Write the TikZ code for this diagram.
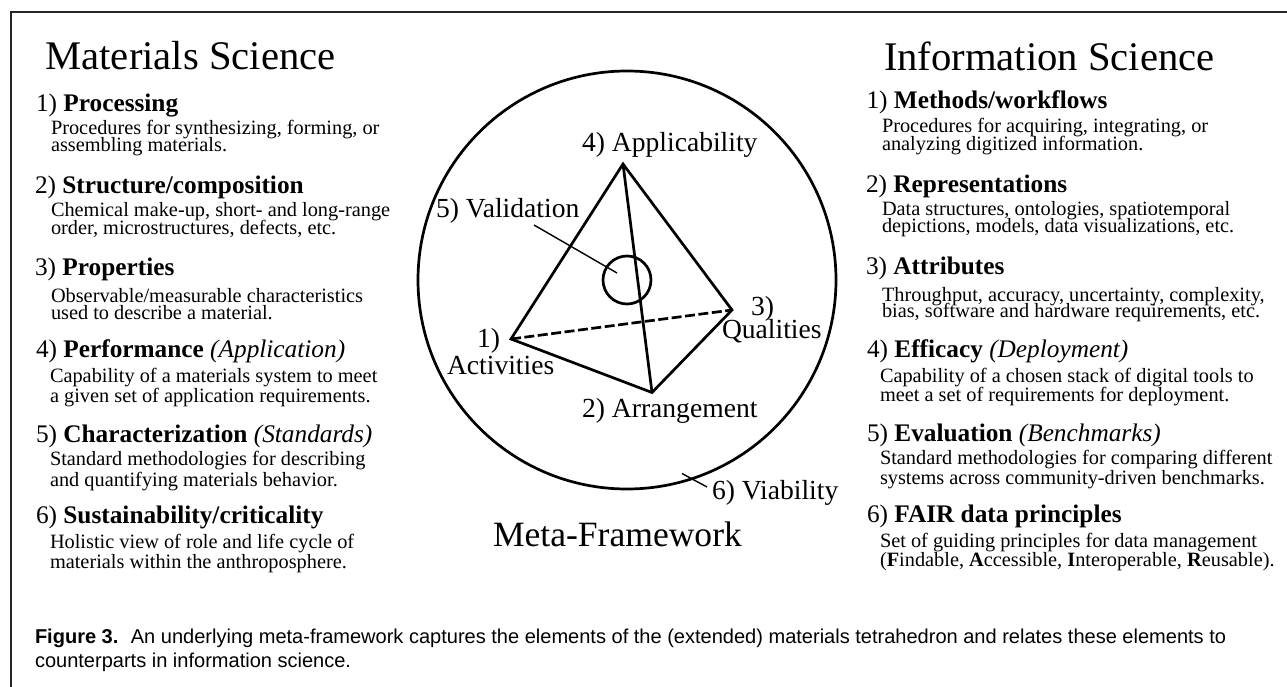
\documentclass[tikz,border=0pt]{standalone}
\usepackage{fontspec}
\setmainfont{Liberation Serif}
\newfontfamily\capfont{Liberation Sans}
\tikzset{x=1bp,y=-1bp,
  txt/.style={anchor=base west,inner sep=0pt,outer sep=0pt,font=\fontsize{#1}{#1}\selectfont},
  heavy/.style={line width=2.7bp,black},
  thin line/.style={line width=1.4bp,black},
  capt/.style={anchor=base west,inner sep=0pt,outer sep=0pt,font=\capfont\fontsize{20.1}{20.1}\selectfont}}
\newcommand{\hd}[3]{\node[txt=40.8] (#1) at (#2) {#3};}
\newcommand{\itm}[3]{\node[txt=25.4] (#1) at (#2) {#3};}
\newcommand{\bdy}[3]{\node[txt=20.4] (#1) at (#2) {#3};}
\begin{document}
\begin{tikzpicture}
\useasboundingbox (0,0) rectangle (1287,687);
\fill[white] (0,0) rectangle (1287,687);
\coordinate (fa) at (11,687);
\coordinate (fb) at (11,12);
\coordinate (fc) at (1287,12);
\draw[line width=1.1bp,black!85] (fa) -- (fb) -- (fc);
% left
\hd{ml}{45.5,70}{Materials Science}
\itm{l1}{36,112}{1) \textbf{Processing}}
\bdy{l1a}{51,135}{Procedures for synthesizing, forming, or}
\bdy{l1b}{51,152}{assembling materials.}
\itm{l2}{35,194}{2) \textbf{Structure/composition}}
\bdy{l2a}{51,217}{Chemical make-up, short- and long-range}
\bdy{l2b}{51,235}{order, microstructures, defects, etc.}
\itm{l3}{35,275}{3) \textbf{Properties}}
\bdy{l3a}{51,302}{Observable/measurable characteristics}
\bdy{l3b}{51,319}{used to describe a material.}
\itm{l4}{36,357}{4) \textbf{Performance} \textit{(Application)}}
\bdy{l4a}{50,382}{Capability of a materials system to meet}
\bdy{l4b}{50,402}{a given set of application requirements.}
\itm{l5}{36,442}{5) \textbf{Characterization} \textit{(Standards)}}
\bdy{l5a}{50,465.5}{Standard methodologies for describing}
\bdy{l5b}{50,486}{and quantifying materials behavior.}
\itm{l6}{36,523}{6) \textbf{Sustainability/criticality}}
\bdy{l6a}{50,548}{Holistic view of role and life cycle of}
\bdy{l6b}{50,568}{materials within the anthroposphere.}
% right
\hd{mr}{884,71}{Information Science}
\itm{r1}{866.5,109}{1) \textbf{Methods/workflows}}
\bdy{r1a}{882,133}{Procedures for acquiring, integrating, or}
\bdy{r1b}{882,151}{analyzing digitized information.}
\itm{r2}{866,193}{2) \textbf{Representations}}
\bdy{r2a}{882,216}{Data structures, ontologies, spatiotemporal}
\bdy{r2b}{882,233}{depictions, models, data visualizations, etc.}
\itm{r3}{866,274}{3) \textbf{Attributes}}
\bdy{r3a}{882,301}{Throughput, accuracy, uncertainty, complexity,}
\bdy{r3b}{882,317}{bias, software and hardware requirements, etc.}
\itm{r4}{867,357}{4) \textbf{Efficacy} \textit{(Deployment)}}
\bdy{r4a}{880,382}{Capability of a chosen stack of digital tools to}
\bdy{r4b}{880,401}{meet a set of requirements for deployment.}
\itm{r5}{867,441}{5) \textbf{Evaluation} \textit{(Benchmarks)}}
\bdy{r5a}{880,464}{Standard methodologies for comparing different}
\bdy{r5b}{880,484}{systems across community-driven benchmarks.}
\itm{r6}{867,522}{6) \textbf{FAIR data principles}}
\bdy{r6a}{880,547}{Set of guiding principles for data management}
\bdy{r6b}{880,566}{(\textbf{F}indable, \textbf{A}ccessible, \textbf{I}nteroperable, \textbf{R}eusable).}
% centre
\node[draw,heavy,circle,minimum size=418bp,inner sep=0pt] (outer) at (627,280) {};
\node[draw,heavy,circle,minimum size=48bp,inner sep=0pt] (inner) at (627,280) {};
\coordinate (A) at (623,164);
\coordinate (B) at (511,339);
\coordinate (C) at (652,392.5);
\coordinate (D) at (732,310);
\draw[heavy,line join=miter] (B) -- (A) -- (D) -- (C) -- cycle;
\draw[heavy] (A) -- (C);
\draw[heavy,dash pattern=on 10bp off 3.5bp] (B) -- (D);
\coordinate (v1) at (534,225);
\coordinate (v2) at (617,273);
\draw[thin line] (v1) -- (v2);
\coordinate (w1) at (682,473.5);
\coordinate (w2) at (707,487);
\draw[thin line] (w1) -- (w2);
\node[txt=27.7] (n4) at (582,152) {4) Applicability};
\node[txt=27.7] (n5) at (436,218) {5) Validation};
\node[txt=27.7] (n1a) at (477,347) {1)};
\node[txt=27.7] (n1b) at (447,374) {Activities};
\node[txt=27.7] (n3a) at (751,315) {3)};
\node[txt=27.7] (n3b) at (722,338) {Qualities};
\node[txt=27.7] (n2) at (582,417) {2) Arrangement};
\node[txt=27.7] (n6) at (712,499) {6) Viability};
\node[txt=35.7] (meta) at (493,546) {Meta-Framework};
% caption
\node[capt] (c1) at (35,643) {\textbf{Figure 3.}\hspace{0.25em} An underlying meta-framework captures the elements of the (extended) materials tetrahedron and relates these elements to};
\node[capt] (c2) at (35,667) {counterparts in information science.};
\end{tikzpicture}
\end{document}
